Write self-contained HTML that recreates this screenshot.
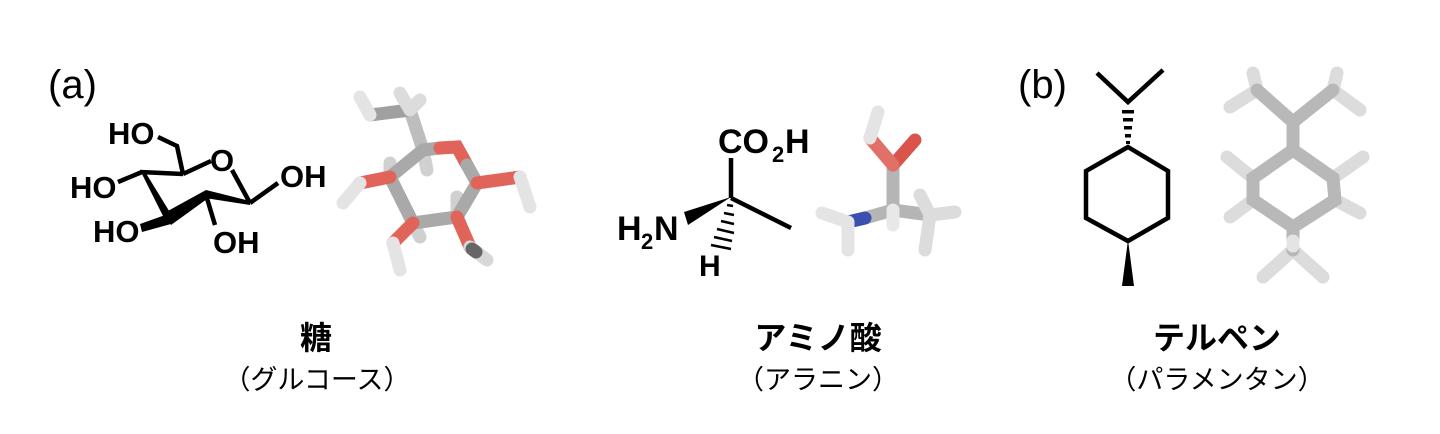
<!DOCTYPE html>
<html><head><meta charset="utf-8"><style>
html,body{margin:0;padding:0;background:#fff;}
svg{display:block}
.t{font-family:"Liberation Sans",Arial,sans-serif;font-weight:bold;fill:#000}
.j{font-family:"Liberation Sans","Noto Sans CJK JP",sans-serif;fill:#000}
.k{fill:none;stroke:#000;stroke-width:4.5;stroke-linejoin:miter;stroke-linecap:butt}
.g{fill:none;stroke-linecap:round;stroke-width:13}
</style></head><body>
<svg width="1440" height="434" viewBox="0 0 1440 434" xmlns="http://www.w3.org/2000/svg">
<text x="48" y="98" font-family="Liberation Sans,Arial,sans-serif" font-size="40">(a)</text>
<text x="1018" y="98" font-family="Liberation Sans,Arial,sans-serif" font-size="40">(b)</text>

<!-- Glucose 2D -->
<text class="t" x="108" y="144" font-size="31">HO</text>
<polyline class="k" points="158,137 177,146 183,174"/>
<line class="k" x1="183" y1="174" x2="211" y2="161"/>
<text class="t" x="210" y="171" font-size="31">O</text>
<line class="k" x1="232" y1="170" x2="250" y2="203"/>
<line class="k" x1="250" y1="203" x2="278" y2="183"/>
<text class="t" x="280" y="187" font-size="31">OH</text>
<polygon points="250,201 206,190 205,198 250,205" fill="#000"/>
<polygon points="206,190 166,212 171,225 207,199" fill="#000"/>
<polygon points="140,170 144,170 174,219 165,220" fill="#000"/>
<line class="k" x1="140" y1="172" x2="183" y2="174"/>
<line class="k" x1="142" y1="172" x2="118" y2="182"/>
<text class="t" x="70" y="198" font-size="31">HO</text>
<polygon points="168,214 171,224 142,232 140,224" fill="#000"/>
<text class="t" x="93" y="242" font-size="31">HO</text>
<line class="k" x1="206" y1="195" x2="215" y2="225"/>
<text class="t" x="213" y="253" font-size="31">OH</text>

<!-- Glucose 3D -->
<g class="g">
<path d="M410,110 L423,150" stroke="#bdbdbd"/>
<path d="M410,110 L370,115" stroke="#a0a0a0"/>
<path d="M370,115 L360,97" stroke="#e4e4e4"/>
<path d="M410,110 L400,93 M410,110 L420,100" stroke="#dcdcdc"/>
<path d="M390,177 L390,163 M457,217 L457,197 M413,223 L420,237 M423,150 L427,170" stroke="#d0d0d0"/>
<path d="M390,177 L423,150 L440,148" stroke="#a9a9a9"/>
<path d="M440,148 L457,147 L467,165" stroke="#e0645a"/>
<path d="M467,165 L477,183 L457,217 L413,223 L390,177" stroke="#a9a9a9"/>
<path d="M390,177 L360,183" stroke="#e0645a"/>
<path d="M360,183 L343,203" stroke="#e4e4e4"/>
<path d="M477,183 L520,177" stroke="#e0645a"/>
<path d="M520,177 L530,207" stroke="#e4e4e4"/>
<path d="M413,223 L393,243" stroke="#e0645a"/>
<path d="M393,243 L400,270" stroke="#e4e4e4"/>
<path d="M457,217 L470,247" stroke="#e0645a"/>
<path d="M470,247 L487,260" stroke="#d8d8d8"/>
<path d="M472,249 L476,252" stroke="#666"/>
</g>

<!-- Alanine 2D -->
<text class="t" x="718" y="153" font-size="34">CO</text>
<text class="t" x="772" y="162" font-size="22">2</text>
<text class="t" x="785" y="153" font-size="34">H</text>
<line class="k" x1="731" y1="158" x2="731" y2="198"/>
<line class="k" x1="731" y1="198" x2="791" y2="228"/>
<polygon points="731,197 684,212 688,225" fill="#000"/>
<g stroke="#000" stroke-width="2.5">
<line x1="727" y1="205" x2="733" y2="206"/><line x1="724" y1="213" x2="734" y2="215"/><line x1="721" y1="221" x2="734" y2="224"/><line x1="717" y1="229" x2="734" y2="233"/><line x1="714" y1="237" x2="732" y2="241"/><line x1="711" y1="245" x2="731" y2="249"/>
</g>
<text class="t" x="617" y="240" font-size="34">H</text>
<text class="t" x="641" y="249" font-size="22">2</text>
<text class="t" x="654" y="240" font-size="34">N</text>
<text class="t" x="699" y="276" font-size="30">H</text>

<!-- Alanine 3D -->
<g class="g">
<path d="M893,165 L893,210" stroke="#b5b5b5"/>
<path d="M893,165 L915,140" stroke="#d9544a"/>
<path d="M893,165 L870,138" stroke="#e07068"/>
<path d="M870,138 L878,112" stroke="#e4e4e4"/>
<path d="M893,210 L930,215" stroke="#b5b5b5"/>
<path d="M930,215 L955,212 M930,215 L925,250 M930,215 L920,195" stroke="#dcdcdc"/>
<path d="M893,210 L865,218" stroke="#b5b5b5"/>
<path d="M865,218 L848,222" stroke="#3a4fb0"/>
<path d="M848,222 L822,213 M848,222 L848,250" stroke="#e4e4e4"/>
<path d="M893,210 L893,225" stroke="#e8e8e8"/>
</g>

<!-- Menthane 2D -->
<polyline class="k" points="1097,73 1128,102 1163,70" stroke-width="5"/>
<g fill="#000">
<rect x="1122" y="110" width="12" height="3.5"/><rect x="1123" y="118" width="10" height="3.5"/><rect x="1124" y="126" width="8" height="3.5"/><rect x="1125" y="134" width="6" height="3.5"/><rect x="1126" y="141" width="4" height="3"/>
</g>
<polygon class="k" stroke-width="5" points="1128,147 1168,171 1168,218 1128,241 1086,218 1086,171"/>
<polygon points="1128,240 1122,286 1134,286" fill="#000"/>

<!-- Menthane 3D -->
<g class="g">
<path d="M1257,90 L1253,73 M1257,90 L1230,107 M1333,90 L1337,73 M1333,90 L1360,110 M1293,122 L1293,130" stroke="#dcdcdc"/>
<path d="M1253,178 L1227,157 M1253,200 L1230,217 M1333,178 L1363,157 M1335,200 L1360,213" stroke="#dcdcdc"/>
<path d="M1293,250 L1263,277 M1293,250 L1323,277" stroke="#dcdcdc"/>
<path d="M1257,90 L1293,122 L1333,90 M1293,122 L1293,150" stroke="#b8b8b8"/>
<path d="M1293,150 L1333,178 L1335,200 L1293,227 L1253,200 L1253,178 Z" stroke="#b8b8b8"/>
<path d="M1293,227 L1293,250" stroke="#b8b8b8"/>
<path d="M1293,241 L1293,246" stroke="#e4e4e4"/>
</g>

<!-- Captions -->
<text class="j" x="316" y="349" font-size="32" font-weight="bold" text-anchor="middle">糖</text>
<text class="j" x="317" y="389" font-size="27" text-anchor="middle">（グルコース）</text>
<text class="j" x="818" y="349" font-size="32" font-weight="bold" text-anchor="middle">アミノ酸</text>
<text class="j" x="818" y="389" font-size="27" text-anchor="middle">（アラニン）</text>
<text class="j" x="1217" y="349" font-size="32" font-weight="bold" text-anchor="middle">テルペン</text>
<text class="j" x="1217" y="389" font-size="27" text-anchor="middle">（パラメンタン）</text>
</svg>
</body></html>
